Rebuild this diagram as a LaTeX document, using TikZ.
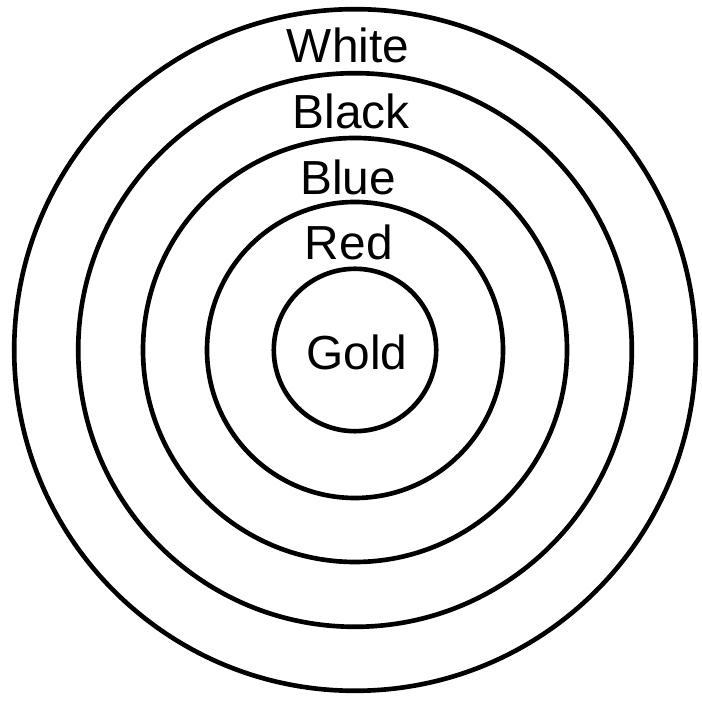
\documentclass[tikz,border=0pt]{standalone}
\usepackage{fontspec}
\setmainfont{Liberation Sans}
\tikzset{
  ring/.style={line width=3.3pt, black},
  ringlabel/.style={font=\fontsize{34}{40}\selectfont, inner sep=0pt}
}
\begin{document}
\begin{tikzpicture}
    \useasboundingbox (0,0) rectangle (17.525,17.85);
    \coordinate (c) at (8.875, 9.1);

    % Rings from the outside in
    \draw[ring] (c) circle (8.52cm);
    \draw[ring] (c) circle (6.92cm);
    \draw[ring] (c) circle (5.30cm);
    \draw[ring] (c) circle (3.70cm);
    \draw[ring] (c) circle (2.03cm);

    % Ring names
    \node[ringlabel] (white) at (8.7, 16.72) {White};
    \node[ringlabel] (black) at (8.78, 15.07) {Black};
    \node[ringlabel] (blue) at (8.7, 13.42) {Blue};
    \node[ringlabel] (red) at (8.72, 11.8) {Red};
    \node[ringlabel] (gold) at (8.92, 9.05) {Gold};
\end{tikzpicture}
\end{document}
